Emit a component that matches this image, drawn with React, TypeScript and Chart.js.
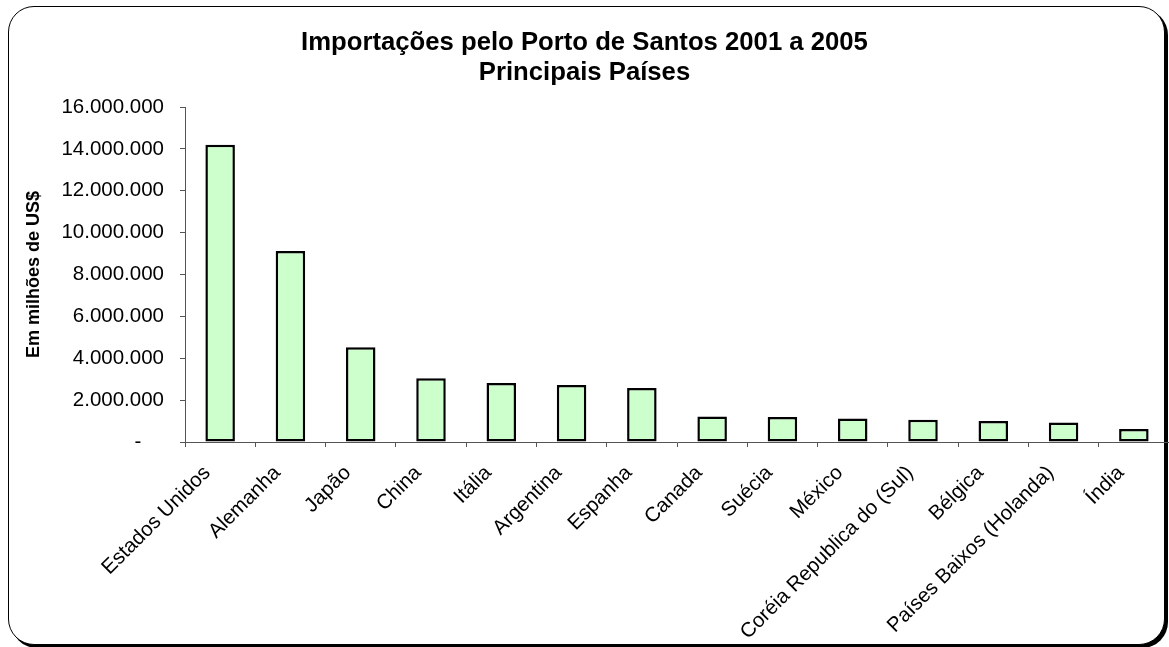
import React, { useEffect, useRef } from "react";
import { Chart, registerables } from "chart.js";

Chart.register(...registerables);

const TITLE_LINES = ["Importações pelo Porto de Santos 2001 a 2005", "Principais Países"];
const Y_TITLE = "Em milhões de US$";

const countries = [
  "Estados Unidos",
  "Alemanha",
  "Japão",
  "China",
  "Itália",
  "Argentina",
  "Espanha",
  "Canada",
  "Suécia",
  "México",
  "Coréia Republica do (Sul)",
  "Bélgica",
  "Países Baixos (Holanda)",
  "Índia",
];

const imports = [
  14200000, 9120000, 4520000, 3040000, 2820000, 2720000, 2580000, 1220000, 1190000, 1120000,
  1060000, 1000000, 930000, 620000,
];

const Y_MIN = 0;
const Y_MAX = 16000000;
const Y_STEP = 2000000;

const FONT = "'Liberation Sans', Arial, Helvetica, sans-serif";
const AXIS_COLOR = "#555555";

function formatThousands(v: number): string {
  if (v === 0) return "-    ";
  return String(Math.round(v)).replace(/\B(?=(\d{3})+(?!\d))/g, ".");
}

export default function App() {
  const canvasRef = useRef<HTMLCanvasElement | null>(null);

  useEffect(() => {
    if (!canvasRef.current) return;
    const chart = new Chart(canvasRef.current, {
      type: "bar",
      data: {
        labels: countries,
        datasets: [
          {
            data: imports,
            backgroundColor: "#CCFFCC",
            borderColor: "#000000",
            borderWidth: 2.5,
            borderSkipped: false,
            categoryPercentage: 1,
            barPercentage: 0.42,
          },
        ],
      },
      options: {
        animation: false,
        responsive: false,
        maintainAspectRatio: false,
        layout: { padding: { left: 0, right: 0, top: 0, bottom: 0 } },
        plugins: {
          legend: { display: false },
          tooltip: { enabled: false },
          title: {
            display: true,
            text: TITLE_LINES,
            color: "#000",
            font: { family: FONT, size: 25.7, weight: "bold", lineHeight: 30 / 25.7 },
            padding: { top: 28, bottom: 19 },
          },
        },
        scales: {
          x: {
            offset: true,
            grid: {
              display: true,
              drawOnChartArea: false,
              drawTicks: true,
              tickLength: 5,
              color: AXIS_COLOR,
              offset: true,
            },
            border: { display: true, color: AXIS_COLOR, width: 1 },
            ticks: {
              autoSkip: false,
              maxRotation: 45,
              minRotation: 45,
              padding: 14,
              labelOffset: -13,
              color: "#000",
              font: { family: FONT, size: 20.5 },
            },
            afterFit: (scale: any) => {
              scale.height = 205;
            },
          },
          y: {
            min: Y_MIN,
            max: Y_MAX,
            grid: {
              display: true,
              drawOnChartArea: false,
              drawTicks: true,
              tickLength: 5,
              color: AXIS_COLOR,
            },
            border: { display: true, color: AXIS_COLOR, width: 1 },
            ticks: {
              stepSize: Y_STEP,
              padding: 16,
              color: "#000",
              font: { family: FONT, size: 20.5 },
              callback: (v: any) => formatThousands(Number(v)),
            },
            title: {
              display: true,
              text: Y_TITLE,
              color: "#000",
              font: { family: FONT, size: 18, weight: "bold", lineHeight: 1.2 },
              padding: { top: 23, bottom: 0 },
            },
            afterFit: (scale: any) => {
              scale.width = 185;
            },
          },
        },
      },
    });
    return () => chart.destroy();
  }, []);

  return (
    <>
      <div
        style={{
          position: "fixed",
          left: 8,
          top: 6,
          width: 1155,
          height: 637,
          border: "1px solid #000",
          borderRadius: 26,
          boxShadow: "3px 3px 0 #000",
          background: "#fff",
          boxSizing: "content-box",
        }}
      />
      <canvas
        ref={canvasRef}
        width={1169}
        height={647}
        style={{ position: "fixed", left: 0, top: 0, width: 1169, height: 647 }}
      />
    </>
  );
}
